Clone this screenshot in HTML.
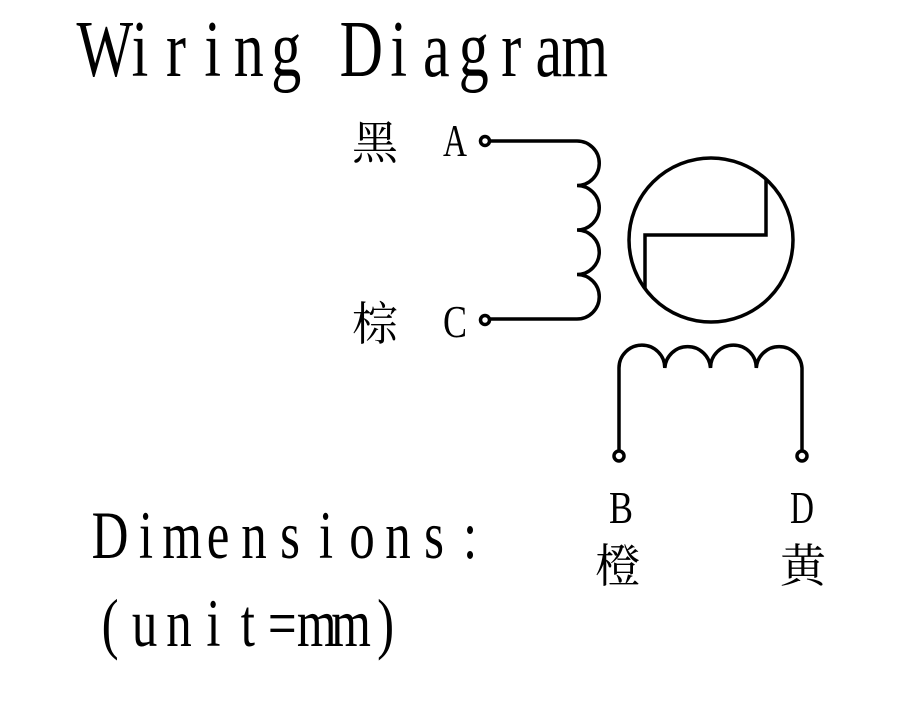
<!DOCTYPE html>
<html><head><meta charset="utf-8"><style>
html,body{margin:0;padding:0;background:#fff;}
svg{display:block;}
</style></head><body>
<svg width="903" height="709" viewBox="0 0 903 709" xmlns="http://www.w3.org/2000/svg">
<g font-family="'Liberation Serif', serif" fill="#000" text-anchor="middle" transform="scale(0.75,1)">
<text y="76" font-size="80" x="139.7 186.7 234.7 283.7 331.7 381.7 431.7 481.7 531.7 581.7 631.7 681.7 731.7 779.7">Wiring Diagram</text>
<text y="558" font-size="68" x="146.7 194.7 242.7 290.7 338.7 386.7 434.7 482.7 530.7 578.7 626.7">Dimensions:</text>
<text y="646" font-size="68" x="146.9 192.8 238.7 284.6 330.5 376.4 422.3 468.2 514.1">(unit=mm)</text>
</g>
<g font-family="'Liberation Serif', serif" fill="#000" font-size="46">
<text x="443" y="156" textLength="24" lengthAdjust="spacingAndGlyphs">A</text>
<text x="443" y="337" textLength="24" lengthAdjust="spacingAndGlyphs">C</text>
<text x="609" y="523" textLength="24" lengthAdjust="spacingAndGlyphs">B</text>
<text x="790" y="523" textLength="24" lengthAdjust="spacingAndGlyphs">D</text>
</g>
<g font-family="'Liberation Serif','Noto Serif CJK SC', serif" fill="#000" font-size="46">
<text x="352" y="159">黑</text>
<text x="352" y="340">棕</text>
<text x="595" y="582">橙</text>
<text x="780" y="582">黄</text>
</g>
<g fill="none" stroke="#000" stroke-width="3.5">
<path d="M490 141 H577 A22.25 22.25 0 0 1 577 185.5 A22.25 22.25 0 0 1 577 230 A22.25 22.25 0 0 1 577 274.5 A22.25 22.25 0 0 1 577 319 H490"/>
<circle cx="485" cy="141" r="4.5"/>
<circle cx="485" cy="320" r="4.5"/>
<circle cx="711" cy="240" r="82"/>
<path d="M766 180 V235 H645 V289"/>
<path d="M619 451 V368 A22.9 22.9 0 0 1 664.8 368 A22.9 22.9 0 0 1 710.5 368 A22.9 22.9 0 0 1 756.3 368 A22.9 22.9 0 0 1 802 368 V451"/>
<circle cx="619" cy="456" r="5"/>
<circle cx="802" cy="456" r="5"/>
</g>
</svg>
</body></html>
